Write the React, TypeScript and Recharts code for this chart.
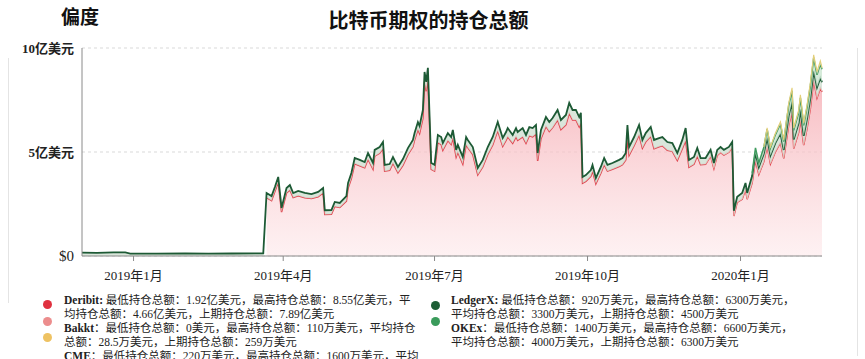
import React from 'react';
import { AreaChart, Area, XAxis, YAxis, CartesianGrid } from 'recharts';

// Daily-ish open interest samples, values in 亿美元
const dates = [
  '2018-12-01', '2018-12-10', '2018-12-20', '2018-12-27', '2018-12-30',
  '2019-01-15', '2019-02-01', '2019-02-15', '2019-03-01', '2019-03-20',
  '2019-03-22', '2019-03-25', '2019-03-27', '2019-03-29', '2019-03-31',
  '2019-04-03', '2019-04-05', '2019-04-07', '2019-04-10', '2019-04-14',
  '2019-04-18', '2019-04-22', '2019-04-25', '2019-04-26', '2019-04-30',
  '2019-05-02', '2019-05-05', '2019-05-09', '2019-05-10', '2019-05-12',
  '2019-05-14', '2019-05-17', '2019-05-20', '2019-05-22', '2019-05-25',
  '2019-05-26', '2019-05-29', '2019-05-31', '2019-06-01', '2019-06-04',
  '2019-06-06', '2019-06-09', '2019-06-12', '2019-06-15', '2019-06-18',
  '2019-06-19', '2019-06-21', '2019-06-22', '2019-06-24', '2019-06-25',
  '2019-06-26', '2019-06-27', '2019-06-29', '2019-07-01', '2019-07-03',
  '2019-07-05', '2019-07-06', '2019-07-09', '2019-07-11', '2019-07-12',
  '2019-07-14', '2019-07-15', '2019-07-18', '2019-07-20', '2019-07-21',
  '2019-07-24', '2019-07-27', '2019-07-30', '2019-08-02', '2019-08-05',
  '2019-08-07', '2019-08-08', '2019-08-11', '2019-08-13', '2019-08-14',
  '2019-08-17', '2019-08-19', '2019-08-20', '2019-08-23', '2019-08-25',
  '2019-08-27', '2019-08-29', '2019-08-31', '2019-09-01', '2019-09-03',
  '2019-09-06', '2019-09-08', '2019-09-10', '2019-09-13', '2019-09-15',
  '2019-09-18', '2019-09-20', '2019-09-22', '2019-09-24', '2019-09-26',
  '2019-09-27', '2019-09-28', '2019-09-30', '2019-10-03', '2019-10-04',
  '2019-10-06', '2019-10-09', '2019-10-11', '2019-10-13', '2019-10-16',
  '2019-10-20', '2019-10-22', '2019-10-24', '2019-10-25', '2019-10-26',
  '2019-10-29', '2019-11-01', '2019-11-03', '2019-11-05', '2019-11-08',
  '2019-11-10', '2019-11-13', '2019-11-15', '2019-11-18', '2019-11-21',
  '2019-11-24', '2019-11-27', '2019-11-29', '2019-12-01', '2019-12-04',
  '2019-12-06', '2019-12-08', '2019-12-11', '2019-12-14', '2019-12-16',
  '2019-12-18', '2019-12-20', '2019-12-22', '2019-12-25', '2019-12-27',
  '2019-12-28', '2019-12-30', '2020-01-02', '2020-01-04', '2020-01-05',
  '2020-01-08', '2020-01-10', '2020-01-12', '2020-01-15', '2020-01-17',
  '2020-01-19', '2020-01-22', '2020-01-25', '2020-01-27', '2020-01-30',
  '2020-02-01', '2020-02-02', '2020-02-05', '2020-02-06', '2020-02-08',
  '2020-02-10', '2020-02-12', '2020-02-14', '2020-02-16', '2020-02-18',
  '2020-02-19',
];

// full length
const ledgerx = [
  0.16, 0.15, 0.17, 0.17, 0.11, 0.11, 0.12, 0.11, 0.12, 0.13,
  0.22, 0.22, 0.22, 0.25, 0.20, 0.24, 0.24, 0.22, 0.23, 0.23,
  0.22, 0.23, 0.24, 0.20, 0.20, 0.22, 0.22, 0.24, 0.25, 0.27,
  0.28, 0.28, 0.28, 0.30, 0.30, 0.30, 0.30, 0.32, 0.30, 0.30,
  0.30, 0.28, 0.30, 0.32, 0.33, 0.34, 0.36, 0.36, 0.40, 0.45,
  0.45, 0.50, 0.30, 0.30, 0.36, 0.36, 0.35, 0.36, 0.36, 0.38,
  0.34, 0.35, 0.34, 0.38, 0.37, 0.36, 0.33, 0.34, 0.36, 0.38,
  0.40, 0.42, 0.40, 0.40, 0.42, 0.40, 0.42, 0.40, 0.42, 0.40,
  0.42, 0.42, 0.43, 0.38, 0.42, 0.45, 0.45, 0.46, 0.48, 0.46,
  0.47, 0.50, 0.48, 0.48, 0.47, 0.48, 0.30, 0.30, 0.30, 0.30,
  0.28, 0.30, 0.32, 0.30, 0.30, 0.32, 0.32, 0.33, 0.63, 0.40,
  0.42, 0.48, 0.40, 0.42, 0.45, 0.42, 0.42, 0.42, 0.40, 0.40,
  0.36, 0.42, 0.60, 0.35, 0.35, 0.38, 0.32, 0.30, 0.30, 0.26,
  0.26, 0.26, 0.25, 0.25, 0.26, 0.25, 0.26, 0.30, 0.32, 0.30,
  0.33, 0.35, 0.35, 0.38, 0.42, 0.40, 0.42, 0.44, 0.40, 0.45,
  0.48, 0.42, 0.45, 0.48, 0.44, 0.46, 0.50, 0.45, 0.50, 0.48,
  0.45,
];

// from 2019-03-22
const deribit = [
  2.81, 2.66, 3.10, 3.55, 2.11, 3.03, 3.17, 2.81, 2.90, 2.80,
  2.76, 2.85, 3.03, 2.00, 2.01, 2.38, 2.33, 2.64, 3.26, 3.72,
  4.43, 4.34, 4.24, 4.65, 4.17, 4.80, 4.94, 5.16, 4.08, 4.12,
  4.46, 4.00, 4.36, 4.87, 5.25, 5.57, 6.08, 5.89, 6.62, 8.40,
  7.92, 8.55, 4.17, 4.08, 5.46, 5.36, 5.08, 5.55, 5.36, 5.68,
  4.76, 4.99, 4.42, 5.34, 5.21, 4.88, 3.90, 4.28, 4.88, 5.34,
  5.80, 6.02, 5.27, 5.56, 5.73, 5.42, 5.73, 5.56, 5.73, 5.42,
  5.78, 5.73, 5.87, 4.57, 5.64, 6.23, 5.99, 6.17, 6.54, 6.08,
  6.31, 6.86, 6.54, 6.54, 6.21, 6.40, 3.50, 3.59, 3.83, 4.08,
  3.47, 3.98, 4.39, 4.08, 4.17, 4.30, 4.39, 4.62, 5.67, 4.84,
  5.30, 5.82, 5.18, 5.49, 5.75, 5.16, 5.25, 5.30, 5.08, 5.03,
  4.59, 5.16, 5.55, 4.27, 4.41, 4.81, 4.39, 4.41, 4.80, 4.21,
  4.84, 4.98, 4.85, 4.99, 5.22, 1.92, 2.58, 2.73, 3.19, 2.73,
  3.52, 4.60, 3.92, 4.53, 5.27, 4.43, 5.01, 5.45, 4.69, 6.29,
  6.94, 5.17, 5.95, 6.57, 5.33, 6.12, 7.08, 8.45, 7.60, 8.07,
  7.89,
];

// from 2019-12-11
const bakkt = [
  0.000, 0.001, 0.001, 0.002, 0.002, 0.002, 0.003, 0.003, 0.003, 0.003,
  0.003, 0.004, 0.004, 0.004, 0.005, 0.005, 0.005, 0.006, 0.006, 0.006,
  0.007, 0.007, 0.008, 0.008, 0.008, 0.009, 0.009, 0.009, 0.010, 0.010,
  0.011, 0.011, 0.010, 0.011,
];

// from 2020-01-08
const okex = [
  0.14, 0.24, 0.20, 0.30, 0.40, 0.35, 0.40, 0.45, 0.40, 0.50,
  0.52, 0.45, 0.50, 0.55, 0.50, 0.55, 0.60, 0.62, 0.60, 0.66,
  0.63,
];

// from 2020-01-15
const cme = [
  0.022, 0.06, 0.06, 0.08, 0.10, 0.09, 0.12, 0.14, 0.11, 0.12,
  0.14, 0.12, 0.13, 0.14, 0.14, 0.15, 0.16, 0.07,
];

const tickDates = ['2019-01-01', '2019-04-01', '2019-07-01', '2019-10-01', '2020-01-01'];
const tickLabels = ['2019年1月', '2019年4月', '2019年7月', '2019年10月', '2020年1月'];
const yTicks = [0, 5, 10];
const yLabels = ['$0', '5亿美元', '10亿美元'];

const tail = (arr: number[], i: number) => {
  const k = i - (dates.length - arr.length);
  return k >= 0 ? arr[k] : null;
};

const rows = dates.map((d, i) => ({
  t: Date.parse(d),
  deribit: tail(deribit, i),
  bakkt: tail(bakkt, i),
  ledgerx: ledgerx[i],
  okex: tail(okex, i),
  cme: tail(cme, i),
}));

const xTicks = tickDates.map((d) => Date.parse(d));

const FONT = '"Liberation Serif", "Noto Sans CJK SC", serif';
const CJK = '"Noto Sans CJK SC", sans-serif';

const YTick = ({ x, y, payload }: any) => {
  const idx = yTicks.indexOf(payload.value);
  const isZero = payload.value === 0;
  return (
    <text
      x={x}
      y={y}
      textAnchor="end"
      dominantBaseline="central"
      fontFamily={FONT}
      fontSize={isZero ? 15 : 13}
      fontWeight={isZero ? 400 : 700}
      fill="#222"
    >
      {yLabels[idx]}
    </text>
  );
};

const legendLeft = [
  [<b key="a">Deribit:</b>, ' 最低持仓总额：1.92亿美元，最高持仓总额：8.55亿美元，平'],
  ['均持仓总额：4.66亿美元，上期持仓总额：7.89亿美元'],
  [<b key="b">Bakkt</b>, '：最低持仓总额：0美元，最高持仓总额：110万美元，平均持仓'],
  ['总额：28.5万美元，上期持仓总额：259万美元'],
  [<b key="c">CME</b>, '：最低持仓总额：220万美元，最高持仓总额：1600万美元，平均'],
];
const legendRight = [
  [<b key="d">LedgerX:</b>, ' 最低持仓总额：920万美元，最高持仓总额：6300万美元，'],
  ['平均持仓总额：3300万美元，上期持仓总额：4500万美元'],
  [<b key="e">OKEx</b>, '：最低持仓总额：1400万美元，最高持仓总额：6600万美元，'],
  ['平均持仓总额：4000万美元，上期持仓总额：6300万美元'],
];

const dot = (left: number, top: number, color: string) => (
  <div
    style={{
      position: 'absolute',
      left: left - 4.5,
      top: top - 4.5,
      width: 9,
      height: 9,
      borderRadius: '50%',
      background: color,
    }}
  />
);

const textBlock = (left: number, lines: any[]) => (
  <div
    style={{
      position: 'absolute',
      left,
      top: 293,
      fontFamily: FONT,
      fontSize: 11.5,
      lineHeight: '14px',
      color: '#222',
      whiteSpace: 'nowrap',
    }}
  >
    {lines.map((l, i) => (
      <div key={i}>{l}</div>
    ))}
  </div>
);

export default function App() {
  return (
    <div
      style={{
        position: 'absolute',
        left: 0,
        top: 0,
        width: 865,
        height: 359,
        overflow: 'hidden',
        background: '#fff',
        fontFamily: FONT,
      }}
    >
      <div style={{ position: 'absolute', left: 8, top: 58, width: 1, height: 245, background: '#e4e4e4' }} />
      <div style={{ position: 'absolute', left: 857, top: 48, width: 1, height: 308, background: '#e4e4e4' }} />
      <div style={{ position: 'absolute', left: 61, top: 2, fontFamily: CJK, fontSize: 19, fontWeight: 700, color: '#111' }}>
        偏度
      </div>
      <div
        style={{
          position: 'absolute',
          left: -4,
          width: 865,
          top: 5,
          textAlign: 'center',
          fontFamily: CJK,
          fontSize: 20,
          fontWeight: 700,
          color: '#111',
        }}
      >
        比特币期权的持仓总额
      </div>

      <div style={{ position: 'absolute', left: 0, top: 0 }}>
        <AreaChart width={865} height={290} data={rows} margin={{ top: 48, right: 43, bottom: 4, left: 0 }}>
          <defs>
            <linearGradient id="deribitFill" x1="0" y1="0" x2="0" y2="1">
              <stop offset="0%" stopColor="#f5a9b0" stopOpacity={0.8} />
              <stop offset="100%" stopColor="#fde8ea" stopOpacity={0.6} />
            </linearGradient>
          </defs>
          <CartesianGrid horizontal vertical={false} strokeDasharray="3 3" stroke="#d9d9d9" />
          <XAxis
            dataKey="t"
            type="number"
            domain={['dataMin', 'dataMax']}
            ticks={xTicks}
            tickFormatter={(v: number) => tickLabels[xTicks.indexOf(v)]}
            height={30}
            tickSize={5}
            tickMargin={10}
            stroke="#8a8a8a"
            tick={{ fill: '#222', fontSize: 13, fontFamily: FONT }}
          />
          <YAxis
            domain={[0, 10]}
            ticks={yTicks}
            width={82}
            tickLine={false}
            stroke="#8a8a8a"
            tick={<YTick />}
          />
          <Area
            type="linear"
            dataKey="deribit"
            stackId="oi"
            stroke="#e0404b"
            strokeWidth={1.5}
            fill="url(#deribitFill)"
            fillOpacity={1}
            dot={false}
            isAnimationActive={false}
          />
          <Area
            type="linear"
            dataKey="bakkt"
            stackId="oi"
            stroke="#ee8d8d"
            strokeWidth={1}
            fill="#f6c7c7"
            dot={false}
            isAnimationActive={false}
          />
          <Area
            type="linear"
            dataKey="ledgerx"
            stackId="oi"
            stroke="#1d5a35"
            strokeWidth={1.8}
            fill="#d3e2d5"
            fillOpacity={0.85}
            dot={false}
            isAnimationActive={false}
          />
          <Area
            type="linear"
            dataKey="okex"
            stackId="oi"
            stroke="#3f9b5e"
            strokeWidth={1.5}
            fill="#cfe8d3"
            fillOpacity={0.85}
            dot={false}
            isAnimationActive={false}
          />
          <Area
            type="linear"
            dataKey="cme"
            stackId="oi"
            stroke="#e3cf7a"
            strokeWidth={1.1}
            fill="#f3ead0"
            fillOpacity={0.8}
            dot={false}
            isAnimationActive={false}
          />
        </AreaChart>
      </div>

      {dot(47, 304, '#e0313f')}
      {dot(47, 321, '#ec8d8d')}
      {dot(47, 337, '#eec262')}
      {dot(435, 305, '#1d5e35')}
      {dot(435, 321, '#3a9b5b')}
      {textBlock(64, legendLeft)}
      {textBlock(451, legendRight)}
    </div>
  );
}
